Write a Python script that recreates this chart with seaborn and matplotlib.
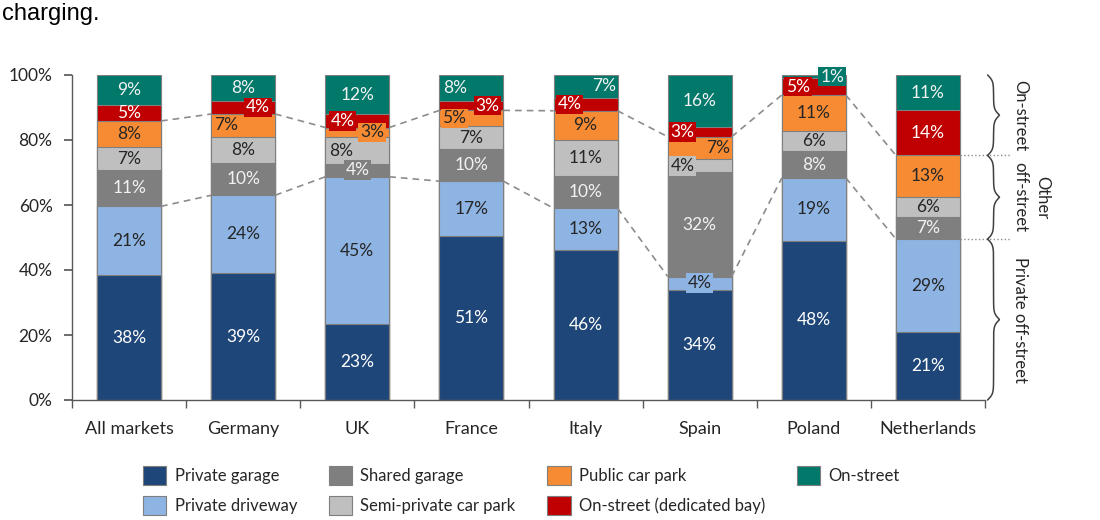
import matplotlib
matplotlib.use("Agg")
import matplotlib.pyplot as plt
import seaborn as sns
import numpy as np

# data (share of charging location, %)
markets = ["All markets", "Germany", "UK", "France", "Italy", "Spain", "Poland", "Netherlands"]
segments = ["Private garage", "Private driveway", "Shared garage", "Semi-private car park",
            "Public car park", "On-street (dedicated bay)", "On-street"]
private_garage = [38, 39, 23, 51, 46, 34, 48, 21]
private_driveway = [21, 24, 45, 17, 13, 4, 19, 29]
shared_garage = [11, 10, 4, 10, 10, 32, 8, 7]
semi_private = [7, 8, 8, 7, 11, 4, 6, 6]
public_car_park = [8, 7, 3, 5, 9, 7, 11, 13]
on_street_bay = [5, 4, 4, 3, 4, 3, 5, 14]
on_street = [9, 8, 12, 8, 7, 16, 1, 11]

values = np.array([private_garage, private_driveway, shared_garage, semi_private,
                   public_car_park, on_street_bay, on_street], dtype=float)

colors = ["#1F4678", "#8EB4E3", "#7F7F7F", "#BFBFBF", "#F68B33", "#C00000", "#00796B"]
text_colors = ["white", "#262626", "#F2F2F2", "#262626", "#262626", "white", "#F2F2F2"]

# sideways nudges for labels of thin segments (in bar units)
shifts = {
    ("Germany", 5): 0.13, ("Germany", 4): -0.15,
    ("UK", 5): -0.13, ("UK", 4): 0.13, ("UK", 3): -0.14,
    ("France", 4): -0.15, ("France", 5): 0.14, ("France", 6): -0.14,
    ("Italy", 5): -0.14, ("Italy", 6): 0.16,
    ("Spain", 5): -0.15, ("Spain", 4): 0.16, ("Spain", 3): -0.15,
    ("Poland", 5): -0.14, ("Poland", 6): 0.16,
}

sns.set_theme(style="white")
plt.rcParams["font.family"] = ["Lato", "DejaVu Sans"]

# normalise each bar to 100 so all tops line up
heights = values / values.sum(axis=0) * 100
cum = np.cumsum(heights, axis=0)

fig = plt.figure(figsize=(11, 5.2), dpi=100)
ax = fig.add_axes([72 / 1100, 120 / 520, 913 / 1100, 325 / 520])

bar_w = 0.56
for j in range(len(segments) - 1, -1, -1):
    sns.barplot(x=markets, y=cum[j], color=colors[j], saturation=1, width=bar_w,
                edgecolor="#7F7F7F", linewidth=0.8, ax=ax, label=segments[j])

# segment labels
for i, m in enumerate(markets):
    bottom = 0
    for j in range(len(segments)):
        h = heights[j, i]
        v = int(values[j, i])
        dx = shifts.get((m, j), 0)
        boxed = dx != 0 or v <= 4
        ax.text(i + dx, bottom + h / 2, f"{v}%", ha="center", va="center",
                color=text_colors[j], fontsize=12.5, zorder=5,
                bbox=dict(fc=colors[j], ec="none", pad=1.2) if boxed else None)
        bottom += h

# dashed connectors between bars
half = bar_w / 2
for level in (cum[1], cum[4]):
    for i in range(len(markets) - 1):
        ax.plot([i + half, i + 1 - half], [level[i], level[i + 1]],
                color="#8C8C8C", lw=1.2, ls=(0, (4, 3)), zorder=3)

# dotted guides and braces on the right
nl = len(markets) - 1
for y in (cum[1, nl], cum[4, nl]):
    ax.plot([nl + half, 7.72], [y, y], color="#8C8C8C", lw=1, ls=":", clip_on=False)


def brace(y0, y1):
    t = np.linspace(0, 1, 400)
    s = np.minimum(t, 1 - t)
    k = 1.1 * (y1 - y0)
    v = 1 / (1 + np.exp(-k * s)) + 1 / (1 + np.exp(-k * (s - 0.5)))
    ax.plot(7.47 + 0.105 * v, y0 + t * (y1 - y0), color="#404040", lw=1.1, clip_on=False)


brace(cum[4, nl], 100)
brace(cum[1, nl], cum[4, nl])
brace(0, cum[1, nl])

side_kw = dict(rotation=-90, ha="center", va="center", fontsize=12, color="#262626")
ax.text(7.81, (cum[4, nl] + 100) / 2, "On-street", **side_kw)
ax.text(7.81, (cum[1, nl] + cum[4, nl]) / 2, "off-street", **side_kw)
ax.text(7.81, cum[1, nl] / 2, "Private off-street", **side_kw)
ax.text(8.0, (cum[1, nl] + cum[4, nl]) / 2, "Other", **side_kw)

# axes
ax.set_xlim(-0.5, 7.5)
ax.set_ylim(0, 100)
ax.set_xlabel("")
ax.set_ylabel("")
ax.set_yticks(range(0, 101, 20))
ax.set_yticklabels([f"{v}%" for v in range(0, 101, 20)])
ax.set_xticks(np.arange(-0.5, 8, 1), minor=True)
ax.tick_params(axis="x", which="major", length=0, pad=15, labelsize=13, labelcolor="#262626")
ax.tick_params(axis="x", which="minor", length=6, direction="out", color="#595959", bottom=True)
ax.tick_params(axis="y", length=6, direction="out", color="#595959", left=True,
               labelsize=12.5, labelcolor="#262626", pad=8)
for side in ("top", "right"):
    ax.spines[side].set_visible(False)
for side in ("left", "bottom"):
    ax.spines[side].set_color("#595959")
    ax.spines[side].set_linewidth(1)

# legend
handles, labels = ax.get_legend_handles_labels()
order = [labels.index(s) for s in segments]
fig.legend([handles[k] for k in order], [labels[k] for k in order], ncol=4,
           loc="upper left", bbox_to_anchor=(143 / 1100, 1 - 466 / 520), frameon=False,
           fontsize=12, handlelength=1.4, handleheight=1.4, handletextpad=0.5,
           columnspacing=1.9, labelspacing=0.65, borderpad=0, borderaxespad=0)
if ax.legend_:
    ax.legend_.remove()

fig.text(0.002, 0.995, "charging.", family="Liberation Sans", fontsize=17, va="top", color="black")

fig.savefig("out.png", dpi=100)
